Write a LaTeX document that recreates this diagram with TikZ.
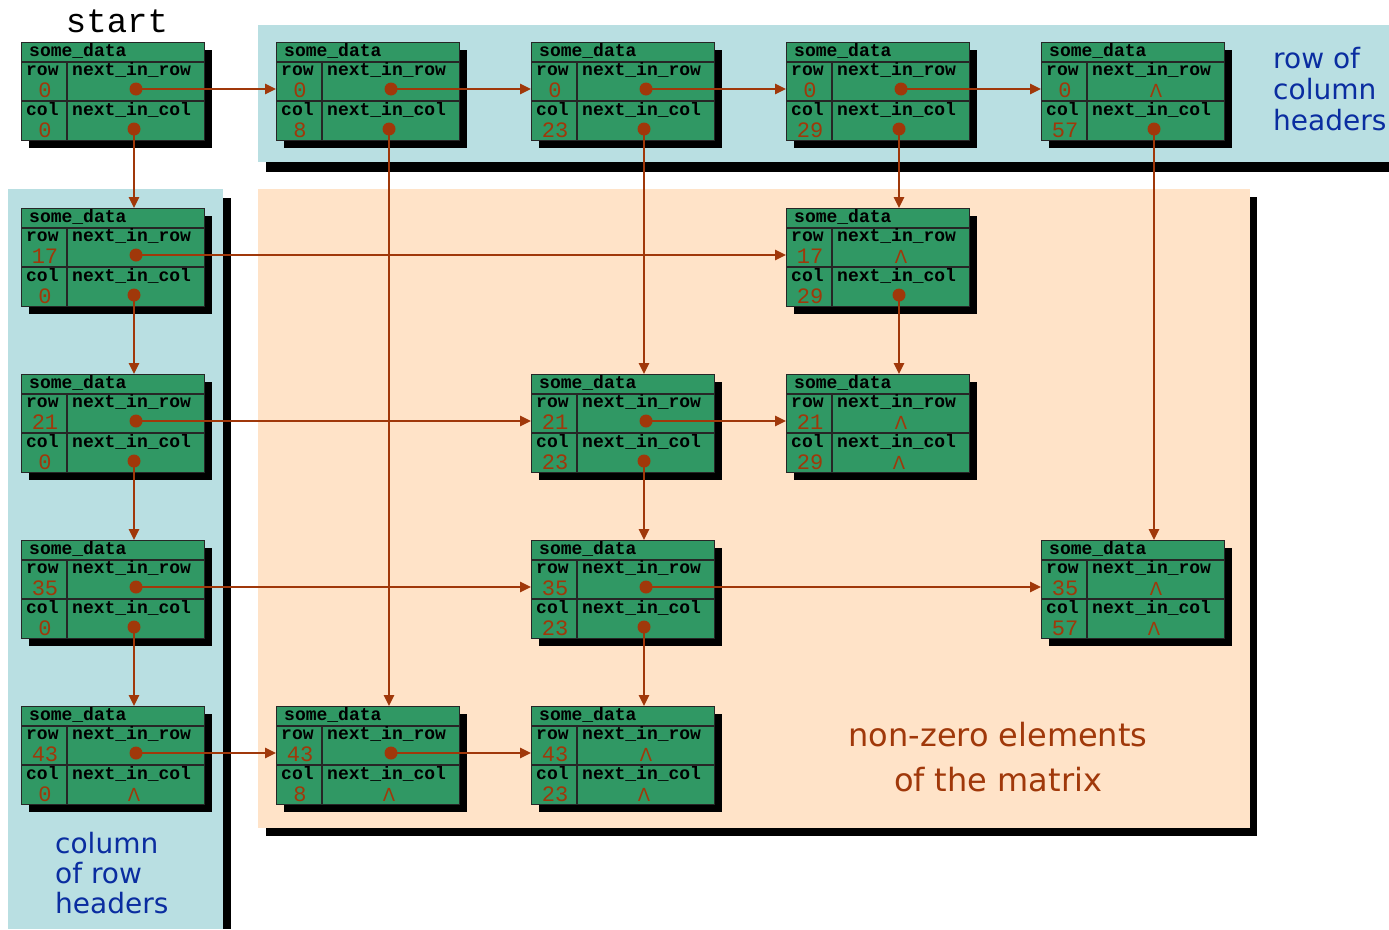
\documentclass[tikz,border=0pt]{standalone}
\usepackage{fontspec}
\setmainfont{DejaVu Sans}
\setsansfont{DejaVu Sans}
\setmonofont{Liberation Mono}
\usetikzlibrary{arrows.meta}
\definecolor{smgreen}{RGB}{48,152,100}
\definecolor{smrust}{RGB}{160,56,10}
\definecolor{smpanel}{RGB}{185,223,226}
\definecolor{smpeach}{RGB}{255,227,200}
\definecolor{smblue}{RGB}{10,45,160}
\tikzset{
    sm box/.style={draw=black!85, line width=1.3pt, fill=smgreen,
                   anchor=north west, minimum width=183pt,
                   minimum height=98pt, inner sep=0pt},
    sm shadow/.style={fill=black},
    sm rule/.style={draw=black!85, line width=1.3pt},
    sm field/.style={font=\fontsize{18}{18}\selectfont\ttfamily\bfseries,
                     anchor=base west, inner sep=0pt},
    sm num/.style={font=\fontsize{22}{22}\selectfont\ttfamily,
                   text=smrust, anchor=base, inner sep=0pt},
    sm dot/.style={circle, fill=smrust, inner sep=0pt, minimum size=13pt},
    sm null/.style={font=\fontsize{18}{18}\selectfont\sffamily,
                    text=smrust, inner sep=0pt, yshift=-2pt},
    sm ptr/.style={-{Triangle[length=11pt,width=10pt]}, line width=2.5pt,
                   smrust},
    sm label/.style={font=\fontsize{28}{31}\selectfont, text=smblue,
                     align=left, anchor=north west, inner sep=0pt},
}
% one record: name, x, y, row, col
\newcommand{\smnode}[5]{%
    \fill[sm shadow] (#2+8, #3+8) rectangle (#2+191, #3+106);
    \node[sm box] (#1) at (#2, #3) {};
    \draw[sm rule] (#2, #3+20) -- (#2+183, #3+20);
    \draw[sm rule] (#2, #3+59) -- (#2+183, #3+59);
    \draw[sm rule] (#2+46, #3+20) -- (#2+46, #3+98);
    \node[sm field] at (#2+8, #3+14) {some\_data};
    \node[sm field] at (#2+5, #3+33) {row};
    \node[sm field] at (#2+51, #3+33) {next\_in\_row};
    \node[sm field] at (#2+5, #3+73) {col};
    \node[sm field] at (#2+51, #3+73) {next\_in\_col};
    \node[sm num] at (#2+24, #3+55) {#4};
    \node[sm num] at (#2+24, #3+95) {#5};
    \coordinate (#1-r) at (#2+115, #3+47);
    \coordinate (#1-c) at (#2+113, #3+87);
}

\begin{document}
\begin{tikzpicture}[x=1pt, y=-1pt]
    \useasboundingbox (0,0) rectangle (1389,929);
    % panels
    \fill[black] (266,162) rectangle (1389,172);
    \fill[smpanel] (258,25) rectangle (1389,162);
    \fill[black] (223,198) rectangle (231,929);
    \fill[smpanel] (8,189) rectangle (223,929);
    \fill[black] (266,828) rectangle (1257,836);
    \fill[black] (1250,197) rectangle (1257,836);
    \fill[smpeach] (258,189) rectangle (1250,828);

    \node[font=\fontsize{34}{34}\selectfont\ttfamily, anchor=base,
          inner sep=0pt] (start) at (117, 32) {start};
    \node[sm label] (collab) at (1273, 47) {row of\\column\\headers};
    \node[sm label, font=\fontsize{28}{30}\selectfont] (rowlab)
        at (55, 832) {column\\of row\\headers};
    \node[sm label, text=smrust, align=center, anchor=north,
          font=\fontsize{32}{45}\selectfont] (elemlab)
        at (998, 722) {non-zero elements\\of the matrix};

    % headers
    \smnode{s}{21}{42}{0}{0}
    \smnode{c8}{276}{42}{0}{8}
    \smnode{c23}{531}{42}{0}{23}
    \smnode{c29}{786}{42}{0}{29}
    \smnode{c57}{1041}{42}{0}{57}
    \smnode{r17}{21}{208}{17}{0}
    \smnode{r21}{21}{374}{21}{0}
    \smnode{r35}{21}{540}{35}{0}
    \smnode{r43}{21}{706}{43}{0}
    % elements
    \smnode{e1729}{786}{208}{17}{29}
    \smnode{e2123}{531}{374}{21}{23}
    \smnode{e2129}{786}{374}{21}{29}
    \smnode{e3523}{531}{540}{35}{23}
    \smnode{e3557}{1041}{540}{35}{57}
    \smnode{e438}{276}{706}{43}{8}
    \smnode{e4323}{531}{706}{43}{23}

    % pointers
    \foreach \n in {s-r, s-c, c8-r, c8-c, c23-r, c23-c, c29-r, c29-c,
                    c57-c, r17-r, r17-c, r21-r, r21-c, r35-r, r35-c,
                    r43-r, e1729-c, e2123-r, e2123-c, e3523-r, e3523-c,
                    e438-r}
        \node[sm dot] (\n-dot) at (\n) {};
    \foreach \n in {c57-r, r43-c, e1729-r, e2129-r, e2129-c, e3557-r,
                    e3557-c, e438-c, e4323-r, e4323-c}
        \node[sm null] (\n-nil) at (\n) {Λ};

    \foreach \a/\b in {s/c8, c8/c23, c23/c29, c29/c57, r17/e1729,
                       r21/e2123, e2123/e2129, r35/e3523, e3523/e3557,
                       r43/e438, e438/e4323}
        \draw[sm ptr] (\a-r-dot.center) -- (\a-r-dot.center -| \b.west);
    \foreach \a/\b in {s/r17, r17/r21, r21/r35, r35/r43, c8/e438,
                       c23/e2123, c29/e1729, e1729/e2129, c57/e3557,
                       e2123/e3523, e3523/e4323}
        \draw[sm ptr] (\a-c-dot.center) -- (\a-c-dot.center |- \b.north);
\end{tikzpicture}
\end{document}
